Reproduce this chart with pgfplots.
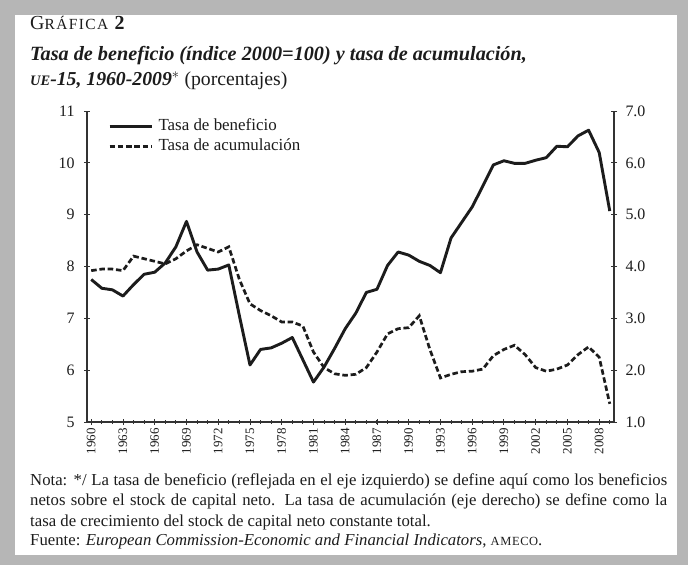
\documentclass[border=0pt]{standalone}
\usepackage{pgfplots}
\pgfplotsset{compat=1.18}
\usepackage{fontspec}
\setmainfont{Liberation Serif}
\definecolor{frame}{HTML}{B6B6B6}
\definecolor{ink}{HTML}{1C1C1C}

\pgfplotstableread{
year ben
1960 7.75
1961 7.58
1962 7.55
1963 7.43
1964 7.65
1965 7.85
1966 7.89
1967 8.07
1968 8.38
1969 8.87
1970 8.28
1971 7.93
1972 7.95
1973 8.03
1974 7.05
1975 6.10
1976 6.40
1977 6.43
1978 6.52
1979 6.63
1980 6.20
1981 5.77
1982 6.06
1983 6.42
1984 6.80
1985 7.10
1986 7.50
1987 7.56
1988 8.02
1989 8.28
1990 8.22
1991 8.10
1992 8.02
1993 7.88
1994 8.55
1995 8.85
1996 9.15
1997 9.55
1998 9.96
1999 10.04
2000 9.99
2001 9.99
2002 10.05
2003 10.10
2004 10.32
2005 10.31
2006 10.52
2007 10.63
2008 10.20
2009 9.07
}\beneficio

\pgfplotstableread{
year acu
1960 3.92
1961 3.95
1962 3.95
1963 3.92
1964 4.20
1965 4.15
1966 4.10
1967 4.05
1968 4.15
1969 4.30
1970 4.42
1971 4.35
1972 4.28
1973 4.38
1974 3.75
1975 3.28
1976 3.15
1977 3.05
1978 2.93
1979 2.93
1980 2.85
1981 2.35
1982 2.05
1983 1.93
1984 1.90
1985 1.92
1986 2.05
1987 2.35
1988 2.70
1989 2.80
1990 2.82
1991 3.05
1992 2.40
1993 1.85
1994 1.92
1995 1.97
1996 1.98
1997 2.02
1998 2.28
1999 2.40
2000 2.48
2001 2.30
2002 2.05
2003 1.98
2004 2.02
2005 2.10
2006 2.30
2007 2.45
2008 2.25
2009 1.35
}\acumulacion

\pgfplotsset{
  common/.style={
    scale only axis, width=527bp, height=311bp,
    at={(87bp,143bp)}, anchor=south west,
    xmin=1959.6, xmax=2009.4,
    tick align=center,
    major tick length=6bp, minor tick length=4bp,
    axis line style={ink!90, line width=1.4bp},
    tick style={ink!90, line width=0.9bp},
    tick label style={text=ink},
    /pgf/number format/assume math mode=true,
  },
  solida/.style={ink, line width=2.9bp, line join=round},
  rayada/.style={ink, line width=2.7bp, dash pattern=on 5.5bp off 2.8bp},
}

\begin{document}
\begin{tikzpicture}
\fill[frame] (0bp,0bp) rectangle (688bp,565bp);
\fill[white] (15bp,10bp) rectangle (677bp,550bp);

% titulo
\node[anchor=base west, inner sep=0, text=ink, font=\fontsize{20}{20}\selectfont]
  at (30bp,535bp) {G{\fontsize{15.5}{16}\selectfont\addfontfeature{LetterSpace=9}RÁFICA} \textbf{2}};
\node[anchor=base west, inner sep=0, text=ink, font=\fontsize{20.3}{21}\selectfont\bfseries\itshape]
  at (30bp,504bp) {Tasa de beneficio (índice 2000=100) y tasa de acumulación,};
\node[anchor=base west, inner sep=0, text=ink, font=\fontsize{19.8}{20}\selectfont]
  at (30bp,479bp) {\textbf{\textit{{\fontsize{14.5}{15}\selectfont UE}-15, 1960-2009}}$^{*}$ (porcentajes)};

% eje izquierdo
\begin{axis}[common,
  ymin=5, ymax=11, ytick={5,...,11},
  axis x line*=bottom, axis y line*=left,
  xtick={1960,1963,...,2008}, minor xtick={1960,...,2009},
  /pgf/number format/1000 sep={},
  x tick label style={rotate=90, anchor=east, font=\fontsize{13}{13}\selectfont},
  y tick label style={font=\fontsize{16}{16}\selectfont, xshift=-6bp},
  legend style={at={(0.034,0.982)}, anchor=north west, draw=none, fill=none,
    font=\fontsize{17}{17}\selectfont, text=ink, row sep=5bp,
    nodes={inner sep=0.5bp, text height=11bp, text depth=3bp}},
  legend cell align=left,
  legend image code/.code={\draw[#1] (0bp,0bp) -- (42bp,0bp);},
  legend style={/tikz/every odd column/.append style={column sep=5bp}},
]
\addplot[solida] table[x=year, y=ben] {\beneficio};
\addlegendentry{Tasa de beneficio}
\addlegendimage{rayada}
\addlegendentry{Tasa de acumulación}
\end{axis}

% eje derecho
\begin{axis}[common,
  ymin=1, ymax=7, ytick={1,...,7},
  axis x line=none, axis y line*=right,
  y tick label style={font=\fontsize{16}{16}\selectfont, xshift=5bp,
    /pgf/number format/.cd, fixed, fixed zerofill, precision=1},
]
\addplot[rayada] table[x=year, y=acu] {\acumulacion};
\end{axis}

% nota
\begin{scope}[every node/.style={anchor=base west, inner sep=0, text=ink, font=\fontsize{16.8}{17}\selectfont}]
\node at (30bp,79bp) {\makebox[637bp][s]{Nota: */ La tasa de beneficio (reflejada en el eje izquierdo) se define aquí como los beneficios}};
\node at (30bp,59bp) {\makebox[637bp][s]{netos sobre el stock de capital neto. La tasa de acumulación (eje derecho) se define como la}};
\node at (30bp,39bp) {tasa de crecimiento del stock de capital neto constante total.};
\node at (30bp,20bp) {Fuente: \textit{European Commission-Economic and Financial Indicators}, {\fontsize{12.5}{13}\selectfont\addfontfeature{LetterSpace=5}AMECO}.};
\end{scope}
\end{tikzpicture}
\end{document}
